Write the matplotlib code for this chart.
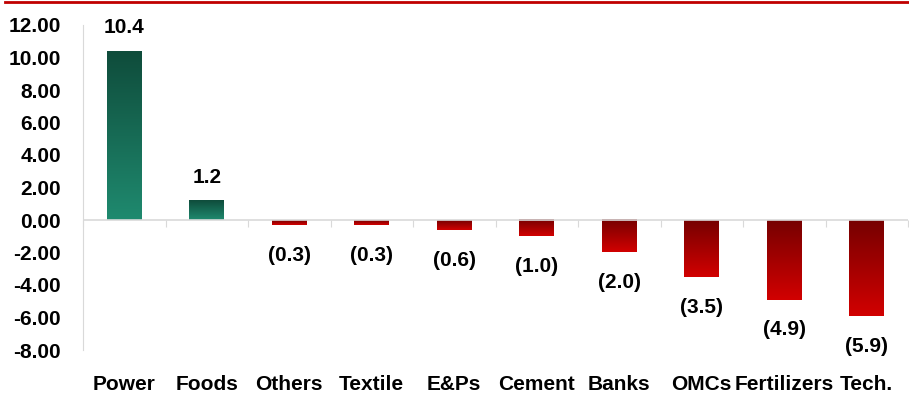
import matplotlib.pyplot as plt
import numpy as np
from matplotlib.colors import LinearSegmentedColormap
from matplotlib.lines import Line2D

sectors = ["Power", "Foods", "Others", "Textile", "E&Ps", "Cement", "Banks",
           "OMCs", "Fertilizers", "Tech."]
values = [10.4, 1.2, -0.3, -0.3, -0.6, -1.0, -2.0, -3.5, -4.9, -5.9]
yticks = [12, 10, 8, 6, 4, 2, 0, -2, -4, -6, -8]

plt.rcParams['font.family'] = ['Liberation Sans', 'DejaVu Sans']
plt.rcParams['font.weight'] = 'bold'

green = LinearSegmentedColormap.from_list("g", ["#1f8a6f", "#0f4c3b"])
red = LinearSegmentedColormap.from_list("r", ["#d20000", "#760000"])

fig = plt.figure(figsize=(9.09, 3.94), dpi=100)
ax = fig.add_axes([83/909, 1-350/394, 825/909, 325/394])

x = np.arange(len(sectors))
bars = ax.bar(x, values, width=0.42, color="none", zorder=2)
grad = np.linspace(0, 1, 256).reshape(-1, 1)
for b, v in zip(bars, values):
    x0, w = b.get_x(), b.get_width()
    y0, h = b.get_y(), b.get_height()
    lo, hi = min(y0, y0+h), max(y0, y0+h)
    ax.imshow(grad, cmap=green if v > 0 else red, origin="lower",
              extent=[x0, x0+w, lo, hi], aspect="auto", zorder=2)
    if v > 0:
        ax.annotate(f"{v:.1f}", (x0+w/2, hi), xytext=(0, 10), textcoords="offset points",
                    ha="center", va="bottom", fontsize=15, fontweight="bold")
    else:
        ax.annotate(f"({abs(v):.1f})", (x0+w/2, lo), xytext=(0, -15), textcoords="offset points",
                    ha="center", va="top", fontsize=15, fontweight="bold")

ax.set_xlim(-0.5, len(sectors)-0.5)
ax.set_ylim(-8, 12)
ax.set_yticks(yticks)
ax.set_yticklabels([f"{t:.2f}" for t in yticks], fontsize=15, fontweight="bold")
ax.set_xticks(x)
ax.set_xticklabels(sectors, fontsize=15, fontweight="bold")
ax.tick_params(axis="y", length=0, pad=16)
ax.tick_params(axis="x", length=0, pad=18)

for s in ["top", "right", "bottom"]:
    ax.spines[s].set_visible(False)
ax.spines["left"].set_color("#d9d9d9")

ax.axhline(0, color="#d9d9d9", lw=1.2, zorder=3)
zero_ax = ax.secondary_xaxis(8/20)
zero_ax.set_xticks(np.arange(len(sectors)+1)-0.5)
zero_ax.set_xticklabels([])
zero_ax.tick_params(direction="out", length=5, color="#d9d9d9")
zero_ax.spines["bottom"].set_visible(False)

fig.add_artist(Line2D([0.005, 1], [1-2/394, 1-2/394], color="#c00000", lw=2))

fig.savefig("out.png", dpi=100)
